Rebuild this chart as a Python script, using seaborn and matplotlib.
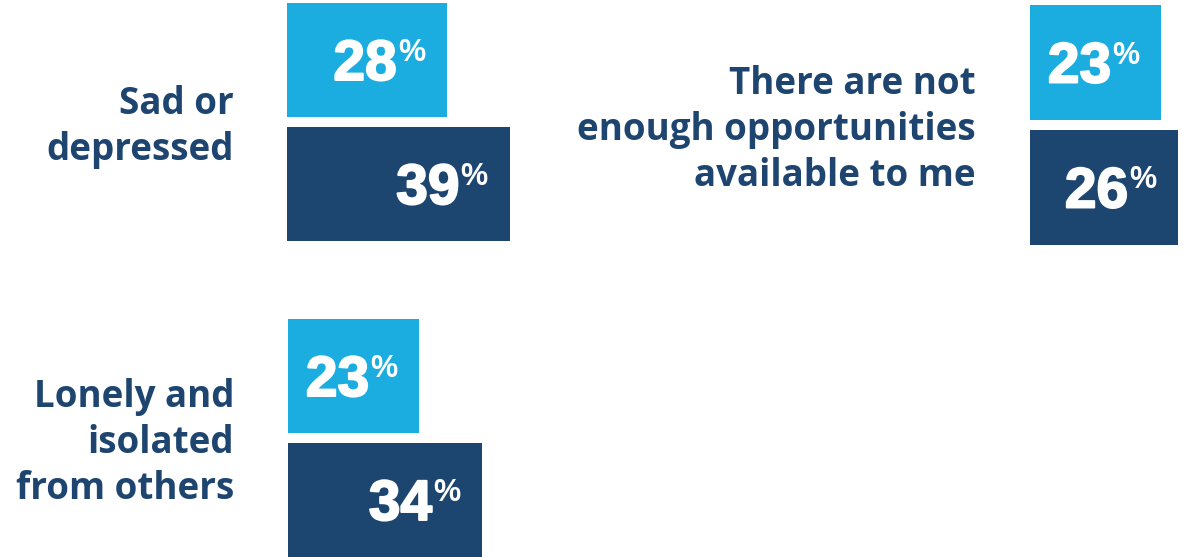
import matplotlib
matplotlib.use("Agg")
import matplotlib.pyplot as plt
import matplotlib.patheffects as pe
import seaborn as sns
import pandas as pd

# ---- data ----
categories = ["Sad or\ndepressed",
              "There are not\nenough opportunities\navailable to me",
              "Lonely and\nisolated\nfrom others"]
series = ["Group A", "Group B"]
light_values = [28, 23, 23]
dark_values = [39, 26, 34]

LIGHT = "#1cade0"
DARK = "#1c4670"
LABEL_COLOR = "#1d4570"

sns.set_theme(style="white")
plt.rcParams["font.family"] = ["Liberation Sans", "DejaVu Sans"]

W, H = 1183, 557
fig = plt.figure(figsize=(W / 100, H / 100), dpi=100)
fig.patch.set_facecolor("white")

PX_PER_PCT = 5.71
# panel layout (left px, top px, height px, label right edge px)
panels = [(287, 3, 238, 234), (1030, 5, 240, 976), (288, 319, 238, 234)]

renderer = fig.canvas.get_renderer()
thick = [pe.withStroke(linewidth=1.4, foreground="white")]

for idx, (L, T, Hp, R) in enumerate(panels):
    Wp = W - L
    ax = fig.add_axes([L / W, (H - T - Hp) / H, Wp / W, Hp / H])
    df = pd.DataFrame({"series": series,
                       "value": [light_values[idx], dark_values[idx]]})
    sns.barplot(data=df, x="value", y="series", hue="series",
                palette=[LIGHT, DARK], orient="h", width=0.92,
                legend=False, ax=ax, saturation=1, linewidth=0)
    ax.set_xlim(0, Wp / PX_PER_PCT)
    ax.set_ylim(1.46, -0.46)
    ax.axis("off")

    for j, v in enumerate(df["value"]):
        pct = ax.annotate("%", xy=(v, j), xycoords="data",
                          xytext=(-22, -1), textcoords="offset pixels",
                          ha="right", va="baseline", color="white",
                          fontsize=22, fontweight="bold")
        wpct = pct.get_window_extent(renderer=renderer).width
        ax.annotate(f"{v}", xy=(v, j), xycoords="data",
                    xytext=(-22 - wpct - 1, -20), textcoords="offset pixels",
                    ha="right", va="baseline", color="white",
                    fontsize=41, fontweight="bold", path_effects=thick)

    ax.annotate(categories[idx], xy=(0, 0.5), xycoords="axes fraction",
                xytext=(-(L - R), -5),
                textcoords="offset pixels", ha="right", va="center",
                multialignment="right", color=LABEL_COLOR,
                fontsize=26.5, fontweight="bold", family=["Open Sans", "DejaVu Sans"],
                linespacing=1.27, annotation_clip=False)

fig.savefig("out.png", dpi=100, facecolor="white")
